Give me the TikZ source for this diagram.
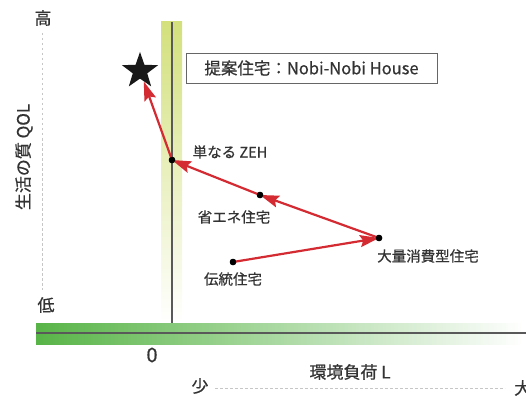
\documentclass[tikz,border=0pt]{standalone}
\usepackage{fontspec}
\setmainfont{Noto Sans CJK JP}[FakeBold=0.6]
\usetikzlibrary{arrows.meta,shapes.geometric}
\definecolor{arrred}{HTML}{D42A32}
\definecolor{bandyel}{HTML}{D3E07C}
\definecolor{bargreen}{HTML}{58B447}
\definecolor{txt}{HTML}{333333}
\tikzset{
  lbl/.style={text=txt, font=\fontsize{14.5}{16}\selectfont, inner sep=0pt},
  axlbl/.style={text=txt, font=\fontsize{17}{19}\selectfont, inner sep=0pt},
  pt/.style={circle, fill=black, inner sep=0pt, minimum size=6.5pt},
  flow/.style={draw=arrred, line width=2.2pt, -{Stealth[length=19pt,width=12pt,inset=3pt]}},
  dots/.style={draw=gray!45, line width=0.8pt, dash pattern=on 2.5pt off 2.5pt},
}
\begin{document}
\begin{tikzpicture}[x=1pt,y=-1pt]
\useasboundingbox (0,0) rectangle (526,398);
% vertical band
\shade[top color=bandyel, bottom color=white] (161,22) rectangle (182,322);
% horizontal bar
\shade[left color=bargreen, right color=white] (36,323) rectangle (524,344);
% axes
\draw[gray!70!black, line width=1.3pt] (172,22) -- (172,323);
\draw[gray!70!black, line width=1.4pt] (36,333) -- (526,333);
% dotted guides
\draw[dots] (42,33) -- (42,290);
\draw[dots] (215,388) -- (505,388);
% axis labels
\node[axlbl] (hi) at (43,18) {高};
\node[axlbl] (lo) at (46,305) {低};
\node[axlbl, rotate=90] (qol) at (24,157) {生活の質 QOL};
\node[axlbl] (zero) at (152,355) {\fontsize{20}{22}\selectfont 0};
\node[axlbl] (env) at (350,372) {環境負荷 L};
\node[axlbl] (few) at (200,386) {少};
\node[axlbl, anchor=west] (many) at (514,388) {大};
% box
\node[draw=gray!80!black, line width=0.9pt, minimum width=251pt, minimum height=30pt, inner sep=0pt, text=txt, font=\fontsize{16.5}{18}\selectfont] (prop) at (311.5,68) {提案住宅：Nobi-Nobi House};
% star
\node[star, star points=5, star point ratio=2.5, fill=black!90, minimum size=38pt, inner sep=0pt] (star) at (140,71) {};
% points
\node[pt] (trad) at (233,262) {};
\node[pt] (mass) at (379,238) {};
\node[pt] (eco) at (260,195) {};
\node[pt] (zeh) at (172,160) {};
% labels
\node[lbl] (ltrad) at (233,279) {伝統住宅};
\node[lbl] (lmass) at (428,256) {大量消費型住宅};
\node[lbl] (leco) at (234,217) {省エネ住宅};
\node[lbl] (lzeh) at (230,152) {単なる ZEH};
% arrows
\draw[flow] (trad.center) -- (mass.center);
\draw[flow] (mass.center) -- (eco.center);
\draw[flow] (eco.center) -- (zeh.center);
\draw[flow] (zeh.center) -- (star);
% redraw dots on top
\foreach \n in {trad,mass,eco,zeh} \fill[black] (\n.center) circle (3.2pt);
\end{tikzpicture}
\end{document}
